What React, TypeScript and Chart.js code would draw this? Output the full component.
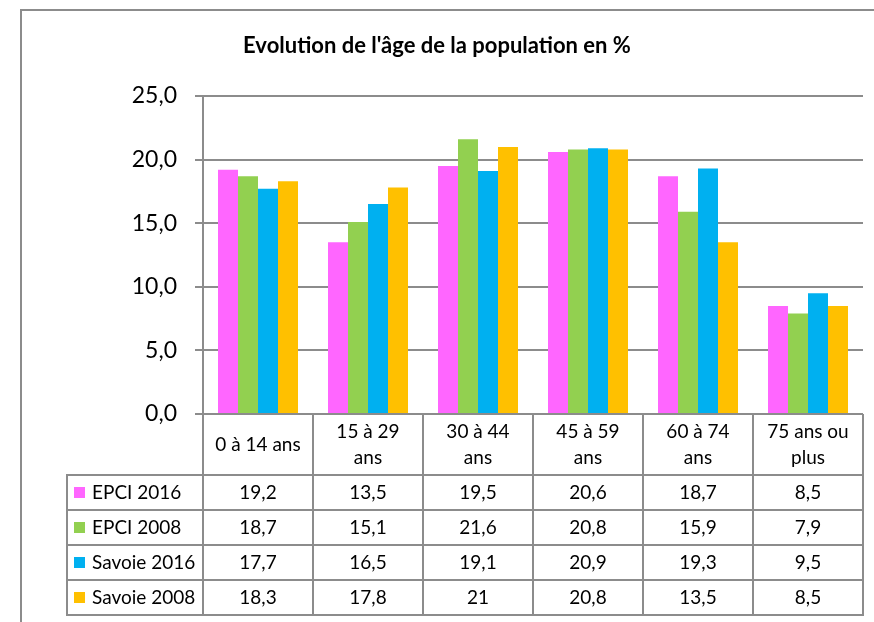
import React, { useEffect, useRef } from "react";
import { Chart, registerables } from "chart.js";

Chart.register(...registerables);

const TITLE = "Evolution de l'âge de la population en %";
const categories: string[][] = [
  ["0 à 14 ans"],
  ["15 à 29", "ans"],
  ["30 à 44", "ans"],
  ["45 à 59", "ans"],
  ["60 à 74", "ans"],
  ["75 ans ou", "plus"],
];
const seriesNames = ["EPCI 2016", "EPCI 2008", "Savoie 2016", "Savoie 2008"];
const epci2016 = [19.2, 13.5, 19.5, 20.6, 18.7, 8.5];
const epci2008 = [18.7, 15.1, 21.6, 20.8, 15.9, 7.9];
const savoie2016 = [17.7, 16.5, 19.1, 20.9, 19.3, 9.5];
const savoie2008 = [18.3, 17.8, 21, 20.8, 13.5, 8.5];
const seriesColors = ["#FF66FF", "#92D050", "#00B0F0", "#FFC000"];
const yMin = 0;
const yMax = 25;
const yStep = 5;

const FONT = "Lato, 'Noto Sans', sans-serif";
const GRID = "#8c8c8c";

const fmtTable = (v: number) => String(v).replace(".", ",");
const fmtAxis = (v: number) => v.toFixed(1).replace(".", ",");

const tablePlugin = {
  id: "excelTable",
  afterDraw(chart: any) {
    const ctx: CanvasRenderingContext2D = chart.ctx;
    const xs = chart.scales.x;
    const area = chart.chartArea;
    const datasets = chart.data.datasets;
    const n = categories.length;
    const half = (xs.getPixelForValue(1) - xs.getPixelForValue(0)) / 2;
    const edges: number[] = [];
    for (let i = 0; i < n; i++) edges.push(xs.getPixelForValue(i) - half);
    edges.push(xs.getPixelForValue(n - 1) + half);
    const top = area.bottom;
    const headerBottom = top + 61;
    const rowH = 35;
    const tableBottom = headerBottom + rowH * datasets.length;
    const legendLeft = edges[0] - 136;

    ctx.save();
    // outer frame
    ctx.strokeStyle = GRID;
    ctx.lineWidth = 2;
    ctx.beginPath();
    ctx.moveTo(21, 640);
    ctx.lineTo(21, 10);
    ctx.lineTo(880, 10);
    ctx.stroke();

    // title
    ctx.fillStyle = "#000";
    ctx.font = `bold 22px ${FONT}`;
    ctx.textAlign = "center";
    ctx.textBaseline = "middle";
    ctx.fillText(TITLE, 437, 46);

    // table lines
    ctx.strokeStyle = GRID;
    ctx.lineWidth = 2;
    ctx.beginPath();
    for (let i = 0; i <= n; i++) {
      ctx.moveTo(edges[i], top);
      ctx.lineTo(edges[i], tableBottom);
    }
    ctx.moveTo(legendLeft, headerBottom);
    ctx.lineTo(legendLeft, tableBottom);
    for (let r = 0; r <= datasets.length; r++) {
      const y = headerBottom + r * rowH;
      ctx.moveTo(legendLeft - 1, y);
      ctx.lineTo(edges[n] + 1, y);
    }
    ctx.stroke();

    // header labels
    ctx.fillStyle = "#000";
    ctx.font = `19px ${FONT}`;
    ctx.textAlign = "center";
    ctx.textBaseline = "middle";
    const lineH = 26;
    for (let i = 0; i < n; i++) {
      const lines = categories[i];
      const cx = xs.getPixelForValue(i);
      const cy = (top + headerBottom) / 2;
      const start = cy - ((lines.length - 1) * lineH) / 2;
      lines.forEach((ln, k) => ctx.fillText(ln, cx, start + k * lineH));
    }

    // rows
    datasets.forEach((ds: any, r: number) => {
      const cy = headerBottom + r * rowH + rowH / 2;
      ctx.fillStyle = ds.backgroundColor;
      ctx.fillRect(legendLeft + 7, cy - 5.5, 11, 11);
      ctx.fillStyle = "#000";
      ctx.textAlign = "left";
      ctx.fillText(ds.label, legendLeft + 25, cy);
      ctx.textAlign = "center";
      ds.data.forEach((v: number, i: number) => {
        ctx.fillText(fmtTable(v), xs.getPixelForValue(i), cy);
      });
    });
    ctx.restore();
  },
};

export default function App() {
  const ref = useRef<HTMLCanvasElement>(null);
  useEffect(() => {
    if (!ref.current) return;
    Chart.defaults.font.family = FONT;
    const values = [epci2016, epci2008, savoie2016, savoie2008];
    const chart = new Chart(ref.current, {
      type: "bar",
      data: {
        labels: categories,
        datasets: seriesNames.map((name, i) => ({
          label: name,
          data: values[i],
          backgroundColor: seriesColors[i],
          borderWidth: 0,
          categoryPercentage: 80 / 110,
          barPercentage: 1,
        })),
      },
      options: {
        responsive: false,
        animation: false,
        devicePixelRatio: 1,
        layout: { padding: { left: 0, top: 96, right: 11, bottom: 208 } },
        plugins: {
          legend: { display: false },
          title: { display: false },
          tooltip: { enabled: false },
        },
        scales: {
          x: { display: false },
          y: {
            min: yMin,
            max: yMax,
            ticks: {
              stepSize: yStep,
              color: "#000",
              font: { size: 23, family: FONT },
              padding: 18,
              callback: (v: any) => fmtAxis(Number(v)),
            },
            grid: { color: GRID, lineWidth: 2, tickLength: 8, drawTicks: true },
            border: { display: true, color: GRID, width: 2 },
            afterFit: (s: any) => {
              s.width = 203;
            },
          },
        },
      },
      plugins: [tablePlugin],
    });
    return () => chart.destroy();
  }, []);
  return (
    <div style={{ position: "absolute", left: 0, top: 0, width: 874, height: 622, background: "#fff" }}>
      <canvas ref={ref} width={874} height={622} style={{ display: "block" }} />
    </div>
  );
}
